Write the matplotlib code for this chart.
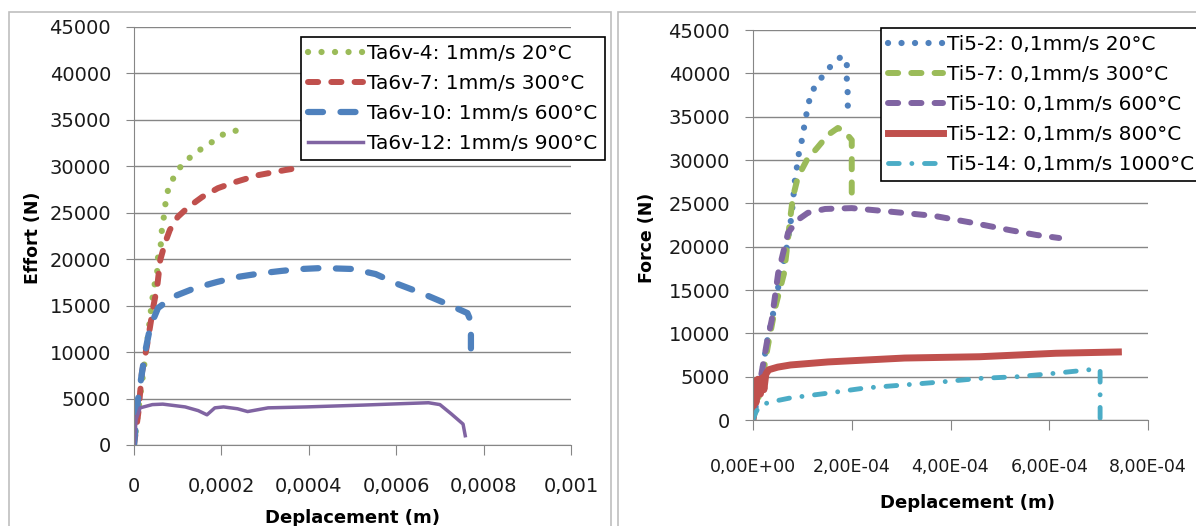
import matplotlib
matplotlib.use("Agg")
import matplotlib.pyplot as plt
from matplotlib.patches import Rectangle
from matplotlib.ticker import FuncFormatter, MultipleLocator

plt.rcParams['font.family'] = ['DejaVu Sans']

# couleurs type Excel
BLUE = '#4F81BD'
RED = '#C0504D'
GREEN = '#9BBB59'
PURPLE = '#8064A2'
CYAN = '#4BACC6'
GRID = '#868686'

# --- Ta6v (gauche) ---
ta4_x = [0, 1.0e-5, 2.1e-5, 3.0e-5, 4.1e-5, 4.6e-5, 5.3e-5, 5.5e-5, 6.2e-5, 6.4e-5, 6.9e-5,
         7.3e-5, 8.0e-5, 9.6e-5, 1.12e-4, 1.35e-4, 1.56e-4, 1.78e-4, 2.0e-4, 2.24e-4, 2.52e-4]
ta4_y = [0, 3800, 7750, 11000, 15400, 17000, 18600, 20200, 21750, 23350, 24750,
         26400, 27900, 29200, 30350, 31200, 31950, 32600, 33350, 33800, 33900]

ta7_x = [0, 1.0e-5, 1.8e-5, 3.0e-5, 4.4e-5, 5.3e-5, 6.0e-5, 7.1e-5, 8.2e-5, 1.0e-4, 1.24e-4,
         1.56e-4, 1.92e-4, 2.31e-4, 2.84e-4, 3.46e-4, 3.75e-4]
ta7_y = [0, 3500, 7750, 10770, 14860, 17000, 19900, 21750, 23150, 24550, 25600,
         26700, 27650, 28300, 29050, 29600, 29820]

ta10_x = [0, 9e-6, 2.5e-5, 3.7e-5, 5.5e-5, 8.9e-5, 1.4e-4, 1.9e-4, 2.38e-4, 2.93e-4, 3.39e-4,
          3.84e-4, 4.3e-4, 5.0e-4, 5.53e-4, 6.05e-4, 6.58e-4, 7.18e-4, 7.63e-4, 7.71e-4, 7.71e-4, 7.71e-4]
ta10_y = [0, 4850, 9900, 12700, 14750, 15950, 16900, 17550, 18100, 18500, 18750,
          18950, 19050, 18950, 18400, 17300, 16350, 15150, 14200, 13300, 11900, 10400]

ta12_x = [0, 5e-6, 1.4e-5, 4.2e-5, 6.6e-5, 1.17e-4, 1.47e-4, 1.67e-4, 1.85e-4, 2.05e-4, 2.37e-4,
          2.6e-4, 3.07e-4, 3.95e-4, 5.26e-4, 6.13e-4, 6.74e-4, 7.0e-4, 7.26e-4, 7.53e-4, 7.58e-4]
ta12_y = [0, 2800, 4000, 4350, 4400, 4100, 3700, 3250, 4000, 4100, 3900,
          3600, 4000, 4100, 4300, 4450, 4550, 4350, 3350, 2250, 1000]

# --- Ti5 (droite) ---
ti2_x = [0, 1.5e-5, 2.8e-5, 4.1e-5, 5.5e-5, 6.7e-5, 7.8e-5, 8.5e-5, 8.9e-5, 9.3e-5, 9.9e-5,
         1.07e-4, 1.17e-4, 1.28e-4, 1.4e-4, 1.52e-4, 1.66e-4, 1.8e-4, 1.9e-4, 1.9e-4, 1.92e-4, 1.92e-4]
ti2_y = [0, 4300, 8900, 12350, 16500, 19500, 23500, 27700, 29200, 30800, 32300,
         34950, 37700, 38650, 39600, 40500, 41300, 42000, 41200, 39350, 37500, 35650]

ti7_x = [0, 1.5e-5, 3.0e-5, 4.5e-5, 6.3e-5, 6.9e-5, 7.5e-5, 8.1e-5, 9.1e-5, 1.09e-4, 1.3e-4,
         1.52e-4, 1.72e-4, 1.86e-4, 2.0e-4, 2.0e-4, 2.0e-4, 2.0e-4]
ti7_y = [0, 3500, 8500, 13000, 16950, 19950, 23100, 25750, 28050, 30000, 31400,
         32900, 33700, 33250, 32300, 30500, 28000, 25750]

ti10_x = [0, 1.4e-5, 2.8e-5, 3.8e-5, 5.1e-5, 7.1e-5, 9.1e-5, 1.11e-4, 1.46e-4, 2.0e-4, 2.67e-4,
          3.67e-4, 4.45e-4, 5.21e-4, 5.74e-4, 6.2e-4]
ti10_y = [0, 4300, 8900, 11550, 16950, 21600, 23100, 23900, 24350, 24450, 24100,
          23550, 22750, 21900, 21350, 21000]

ti12_x = [0, 1e-6, 3e-6, 6e-6, 1e-5, 1.5e-5, 2.0e-5, 2.2e-5, 2.6e-5, 3.2e-5, 5.0e-5,
          7.6e-5, 1.52e-4, 3.07e-4, 4.59e-4, 6.13e-4, 7.4e-4]
ti12_y = [0, 3000, 4500, 2000, 4700, 3000, 4900, 3500, 5300, 5800, 6100,
          6350, 6700, 7150, 7300, 7700, 7850]

ti14_x = [0, 5e-6, 1.4e-5, 3.7e-5, 7.6e-5, 1.52e-4, 2.28e-4, 3.07e-4, 3.83e-4, 4.59e-4,
          5.37e-4, 6.13e-4, 6.9e-4, 7.03e-4, 7.03e-4, 7.03e-4]
ti14_y = [0, 800, 1700, 2100, 2550, 3100, 3700, 4050, 4400, 4800,
          5000, 5400, 5850, 5750, 3000, 0]

left_labels = ['Ta6v-4: 1mm/s 20°C', 'Ta6v-7: 1mm/s 300°C',
               'Ta6v-10: 1mm/s 600°C', 'Ta6v-12: 1mm/s 900°C']
right_labels = ['Ti5-2: 0,1mm/s 20°C', 'Ti5-7: 0,1mm/s 300°C', 'Ti5-10: 0,1mm/s 600°C',
                'Ti5-12: 0,1mm/s 800°C', 'Ti5-14: 0,1mm/s 1000°C']

W, H = 1196, 526
fig = plt.figure(figsize=(W / 100, H / 100), dpi=100)

# cadres gris autour des deux graphes
fig.patches.append(Rectangle((9 / W, -0.1), 602 / W, 1 - 12 / H + 0.1, transform=fig.transFigure,
                             fill=False, edgecolor='#BFBFBF', lw=1.2))
fig.patches.append(Rectangle((618 / W, -0.1), 600 / W, 1 - 12 / H + 0.1, transform=fig.transFigure,
                             fill=False, edgecolor='#BFBFBF', lw=1.2))

ax1 = fig.add_axes([134 / W, 1 - 445 / H, 437 / W, 418 / H])
ax2 = fig.add_axes([753 / W, 1 - 420 / H, 395 / W, 390 / H])

dots = dict(linestyle=(0, (0.01, 2.15)), dash_capstyle='round', lw=4.5)

ax1.plot(ta4_x, ta4_y, color=GREEN, label=left_labels[0], **dots)
ax1.plot(ta7_x, ta7_y, color=RED, lw=4.3, linestyle=(0, (1.7, 2.2)), dash_capstyle='round',
         label=left_labels[1])
ax1.plot(ta10_x, ta10_y, color=BLUE, lw=4.5, linestyle=(0, (2.4, 2.8)), dash_capstyle='round',
         label=left_labels[2])
ax1.plot(ta12_x, ta12_y, color=PURPLE, lw=2.5, label=left_labels[3])

ax2.plot(ti2_x, ti2_y, color=BLUE, label=right_labels[0], **dots)
ax2.plot(ti7_x, ti7_y, color=GREEN, lw=4.3, linestyle=(0, (1.7, 2.2)), dash_capstyle='round',
         label=right_labels[1])
ax2.plot(ti10_x, ti10_y, color=PURPLE, lw=4.3, linestyle=(0, (1.7, 2.2)), dash_capstyle='round',
         label=right_labels[2])
ax2.plot(ti12_x, ti12_y, color=RED, lw=5, solid_joinstyle='round', label=right_labels[3])
ax2.plot(ti14_x, ti14_y, color=CYAN, lw=3.5, linestyle=(0, (2.2, 2.6, 0.01, 2.6)),
         dash_capstyle='round', label=right_labels[4])

ax1.set_xlim(0, 0.001)
ax1.xaxis.set_major_locator(MultipleLocator(0.0002))
ax1.xaxis.set_major_formatter(FuncFormatter(lambda v, p: f"{round(v, 6):g}".replace('.', ',')))
ax2.set_xlim(0, 8e-4)
ax2.xaxis.set_major_locator(MultipleLocator(2e-4))
ax2.xaxis.set_major_formatter(FuncFormatter(lambda v, p: f"{v:.2E}".replace('.', ',')))

for ax in (ax1, ax2):
    ax.set_ylim(0, 45000)
    ax.yaxis.set_major_locator(MultipleLocator(5000))
    ax.grid(axis='y', color=GRID, lw=1)
    ax.set_axisbelow(True)
    for s in ('top', 'right'):
        ax.spines[s].set_visible(False)
    for s in ('left', 'bottom'):
        ax.spines[s].set_color(GRID)
    ax.tick_params(axis='y', length=5.5, color=GRID, labelsize=14, pad=11, labelcolor='#1A1A1A')

ax1.tick_params(axis='x', length=7, color=GRID, labelsize=14, pad=16, labelcolor='#1A1A1A')
ax2.tick_params(axis='x', length=7, color=GRID, labelsize=12.5, pad=20, labelcolor='#1A1A1A')

ax1.set_xlabel('Deplacement (m)', fontsize=13, fontweight='bold')
ax1.set_ylabel('Effort (N)', fontsize=12.5, fontweight='bold')
ax1.xaxis.set_label_coords(0.5, -0.153)
ax1.yaxis.set_label_coords(-0.21, 0.495)
ax2.set_xlabel('Deplacement (m)', fontsize=13, fontweight='bold')
ax2.set_ylabel('Force (N)', fontsize=12.5, fontweight='bold')
ax2.xaxis.set_label_coords(0.544, -0.19)
ax2.yaxis.set_label_coords(-0.246, 0.467)

leg_kw = dict(loc='upper left', fontsize=14.5, fancybox=False, framealpha=1, edgecolor='black',
              borderaxespad=0, borderpad=0.35, handlelength=2.75, handletextpad=0.2)
l1 = ax1.legend(bbox_to_anchor=(301 / W, 1 - 37 / H), bbox_transform=fig.transFigure,
                labelspacing=0.55, **leg_kw)
l2 = ax2.legend(bbox_to_anchor=(881 / W, 1 - 28 / H), bbox_transform=fig.transFigure,
                labelspacing=0.55, **leg_kw)
for lg in (l1, l2):
    lg.get_frame().set_linewidth(1.2)

fig.savefig('out.png', dpi=100)
